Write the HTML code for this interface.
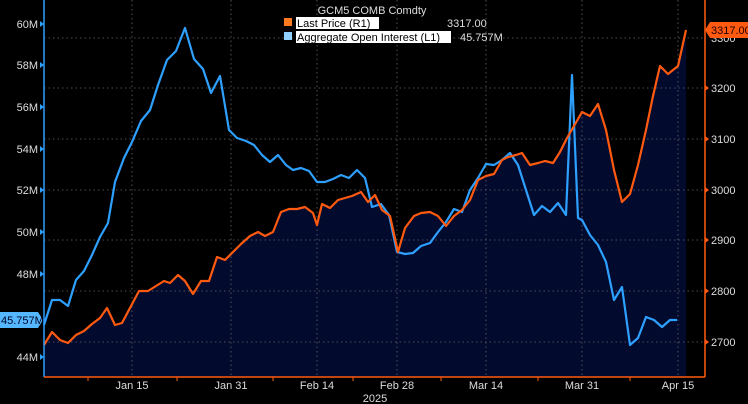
<!DOCTYPE html>
<html><head><meta charset="utf-8"><style>
html,body{margin:0;padding:0;background:#000;}
svg{display:block;font-family:"Liberation Sans",sans-serif;}
</style></head><body>
<svg width="748" height="404" viewBox="0 0 748 404" xmlns="http://www.w3.org/2000/svg">
<rect width="748" height="404" fill="#000"/>
<!-- area fill -->
<polygon fill="#020a2e" points="44,377 44,345 52,332 60,340 68,343 76,335 84,331 92,324 100,318 107,308 115,325 122,323 130,308 139,291 148,291 156,286 164,281 170,283 178,275 185,281 193,294 201,281 209,281 217,257 225,260 233,252 241,244 250,236 258,232 265,236 273,232 281,212 289,209 297,209 305,207 313,213 317,225 322,204 330,208 338,200 345,198 352,196 361,192 368,202 375,195 382,210 390,216 398,252 405,228 414,216 421,213 430,212 438,216 446,226 454,216 462,210 470,200 478,180 486,176 494,174 502,160 508,157 516,155 522,153 530,165 538,163 545,161 553,163 560,152 567,138 574,126 582,112 590,116 598,104 606,130 614,170 622,202 630,194 638,165 646,130 653,96 660,66 668,74 678,66 686,30 686,377"/>
<!-- grid -->
<g stroke="#666" stroke-width="0.8" stroke-dasharray="1.5,3">
<line x1="44" y1="38" x2="705" y2="38"/><line x1="44" y1="88" x2="705" y2="88"/><line x1="44" y1="139" x2="705" y2="139"/><line x1="44" y1="190" x2="705" y2="190"/><line x1="44" y1="240" x2="705" y2="240"/><line x1="44" y1="291" x2="705" y2="291"/><line x1="44" y1="342" x2="705" y2="342"/>
<line x1="132" y1="0" x2="132" y2="377"/><line x1="231" y1="0" x2="231" y2="377"/><line x1="317" y1="0" x2="317" y2="377"/><line x1="397" y1="0" x2="397" y2="377"/><line x1="486" y1="0" x2="486" y2="377"/><line x1="582" y1="0" x2="582" y2="377"/><line x1="678" y1="0" x2="678" y2="377"/>
</g>
<!-- blue -->
<polyline fill="none" stroke="#2ea0ff" stroke-width="2.2" stroke-linejoin="round" points="44,325 52,300 60,300 68,306 76,280 84,271 92,255 100,237 108,223 115,182 124,158 132,142 141,121 150,110 158,85 167,60 176,51 185,28 194,59 203,69 211,93 220,76 229,130 237,138 246,141 254,145 262,155 270,162 278,155 286,165 293,170 301,168 309,171 317,182 325,182 333,179 341,175 349,178 357,170 365,178 372,207 381,204 389,215 397,252 405,254 413,253 421,246 430,243 438,232 446,222 454,209 462,212 470,190 478,178 486,164 494,165 502,160 510,153 518,165 526,190 534,215 542,206 550,212 558,203 566,215 572,75 578,218 582,220 590,235 598,245 606,262 614,300 622,287 630,345 638,338 646,317 654,320 662,327 670,320 677,320"/>
<!-- orange -->
<polyline fill="none" stroke="#ff5a10" stroke-width="2.2" stroke-linejoin="round" points="44,345 52,332 60,340 68,343 76,335 84,331 92,324 100,318 107,308 115,325 122,323 130,308 139,291 148,291 156,286 164,281 170,283 178,275 185,281 193,294 201,281 209,281 217,257 225,260 233,252 241,244 250,236 258,232 265,236 273,232 281,212 289,209 297,209 305,207 313,213 317,225 322,204 330,208 338,200 345,198 352,196 361,192 368,202 375,195 382,210 390,216 398,252 405,228 414,216 421,213 430,212 438,216 446,226 454,216 462,210 470,200 478,180 486,176 494,174 502,160 508,157 516,155 522,153 530,165 538,163 545,161 553,163 560,152 567,138 574,126 582,112 590,116 598,104 606,130 614,170 622,202 630,194 638,165 646,130 653,96 660,66 668,74 678,66 686,30"/>
<!-- axes -->
<line x1="44" y1="0" x2="44" y2="377" stroke="#2ea0ff" stroke-width="1.5"/>
<line x1="705" y1="0" x2="705" y2="377" stroke="#ff5a10" stroke-width="1.5"/>
<line x1="44" y1="377" x2="705" y2="377" stroke="#ff5a10" stroke-width="1.5"/>
<g fill="#ddd" font-size="11" text-anchor="end">
<text x="38" y="28">60M</text><text x="38" y="69">58M</text><text x="38" y="111">56M</text><text x="38" y="153">54M</text><text x="38" y="194">52M</text><text x="38" y="236">50M</text><text x="38" y="278">48M</text><text x="38" y="361">44M</text>
</g>
<g fill="#2ea0ff"><path d="M40,21 L44,24 L40,27Z"/><path d="M40,62 L44,65 L40,68Z"/><path d="M40,104 L44,107 L40,110Z"/><path d="M40,146 L44,149 L40,152Z"/><path d="M40,187 L44,190 L40,193Z"/><path d="M40,229 L44,232 L40,235Z"/><path d="M40,271 L44,274 L40,277Z"/><path d="M40,354 L44,357 L40,360Z"/></g>
<g fill="#ddd" font-size="11">
<text x="711" y="42">3300</text><text x="711" y="92">3200</text><text x="711" y="143">3100</text><text x="711" y="194">3000</text><text x="711" y="244">2900</text><text x="711" y="295">2800</text><text x="711" y="346">2700</text>
</g>
<g fill="#ff5a10"><path d="M705,85 L709,88 L705,91Z"/><path d="M705,136 L709,139 L705,142Z"/><path d="M705,187 L709,190 L705,193Z"/><path d="M705,237 L709,240 L705,243Z"/><path d="M705,288 L709,291 L705,294Z"/><path d="M705,339 L709,342 L705,345Z"/></g>
<g stroke="#ff5a10" stroke-width="1"><line x1="88" y1="377" x2="88" y2="381"/><line x1="177" y1="377" x2="177" y2="381"/><line x1="273" y1="377" x2="273" y2="381"/><line x1="353" y1="377" x2="353" y2="381"/><line x1="441" y1="377" x2="441" y2="381"/><line x1="538" y1="377" x2="538" y2="381"/><line x1="630" y1="377" x2="630" y2="381"/></g>
<g fill="#ddd" font-size="11" text-anchor="middle">
<text x="132" y="389">Jan 15</text><text x="231" y="389">Jan 31</text><text x="317" y="389">Feb 14</text><text x="397" y="389">Feb 28</text><text x="486" y="389">Mar 14</text><text x="582" y="389">Mar 31</text><text x="678" y="389">Apr 15</text>
<text x="375" y="402">2025</text>
</g>
<!-- value labels -->
<path d="M0,312 L38,312 L43,320 L38,328 L0,328Z" fill="#55b8ff"/>
<text x="1" y="324" font-size="11" fill="#002">45.757M</text>
<path d="M705,30 L710,22 L748,22 L748,38 L710,38Z" fill="#ff5a10"/>
<text x="711" y="34" font-size="11" fill="#200">3317.00</text>
<!-- legend -->
<text x="372" y="14" font-size="11" fill="#ddd" text-anchor="middle">GCM5 COMB Comdty</text>
<rect x="284" y="18" width="8" height="8" fill="#ff7a20"/>
<rect x="296" y="17" width="83" height="12" fill="#fff"/>
<text x="297" y="27" font-size="11" fill="#000">Last Price  (R1)</text>
<text x="447" y="27" font-size="11" fill="#ddd">3317.00</text>
<rect x="284" y="32" width="8" height="8" fill="#8fd0ff"/>
<rect x="296" y="31" width="155" height="12" fill="#fff"/>
<text x="297" y="41" font-size="11" fill="#000">Aggregate Open Interest  (L1)</text>
<text x="460" y="41" font-size="11" fill="#ddd">45.757M</text>
</svg>
</body></html>
